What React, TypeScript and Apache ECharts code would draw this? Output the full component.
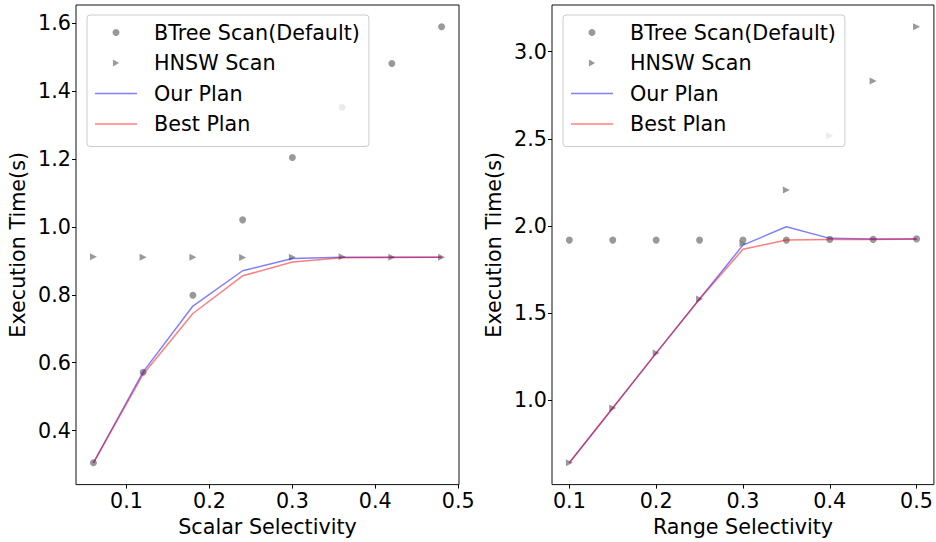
import React, { useEffect, useRef } from "react";
import * as echarts from "echarts";

// ---- data ----
const scalarSel = [0.06, 0.12, 0.18, 0.24, 0.3, 0.36, 0.42, 0.48];
const scalarBTree = [0.305, 0.572, 0.799, 1.021, 1.205, 1.353, 1.482, 1.59];
const scalarHNSW = [0.912, 0.911, 0.911, 0.91, 0.911, 0.912, 0.911, 0.911];
const scalarOur = [0.305, 0.573, 0.767, 0.871, 0.907, 0.911, 0.911, 0.911];
const scalarBest = [0.305, 0.566, 0.745, 0.856, 0.897, 0.909, 0.91, 0.911];

const rangeSel = [0.1, 0.15, 0.2, 0.25, 0.3, 0.35, 0.4, 0.45, 0.5];
const rangeBTree = [1.918, 1.918, 1.918, 1.918, 1.918, 1.918, 1.922, 1.922, 1.925];
const rangeHNSW = [0.639, 0.954, 1.269, 1.58, 1.898, 2.206, 2.517, 2.832, 3.143];
const rangeOur = [0.639, 0.954, 1.269, 1.58, 1.889, 1.995, 1.928, 1.925, 1.925];
const rangeBest = [0.639, 0.954, 1.269, 1.58, 1.865, 1.918, 1.922, 1.922, 1.925];

const leftXTicks = [0.1, 0.2, 0.3, 0.4, 0.5];
const leftYTicks = [0.4, 0.6, 0.8, 1.0, 1.2, 1.4, 1.6];
const rightXTicks = [0.1, 0.2, 0.3, 0.4, 0.5];
const rightYTicks = [1.0, 1.5, 2.0, 2.5, 3.0];

const names = ["BTree Scan(Default)", "HNSW Scan", "Our Plan", "Best Plan"];
const xNames = ["Scalar Selectivity", "Range Selectivity"];
const yName = "Execution Time(s)";

// ---- helpers ----
const FONT = "DejaVu Sans";
const FS = 20.7;
function padded(arrs: number[][]): [number, number] {
  const all = arrs.flat();
  const mn = Math.min(...all);
  const mx = Math.max(...all);
  const r = mx - mn;
  return [mn - 0.05 * r, mx + 0.05 * r];
}
const zip = (xs: number[], ys: number[]) => xs.map((x, i) => [x, ys[i]]);
const fmt = (v: number) => v.toFixed(1);

function makeX(idx: number, ext: [number, number], ticks: number[], name: string) {
  return {
    type: "value",
    gridIndex: idx,
    min: ext[0],
    max: ext[1],
    name,
    nameLocation: "middle",
    nameGap: 25,
    nameTextStyle: { fontSize: FS, fontFamily: FONT, color: "#000" },
    axisLine: { show: false },
    splitLine: { show: false },
    axisTick: { show: true, length: 4, customValues: ticks, lineStyle: { color: "#000", width: 1 } },
    axisLabel: {
      customValues: ticks,
      formatter: fmt,
      fontSize: FS,
      fontFamily: FONT,
      color: "#000",
      margin: 6,
      lineHeight: 20,
    },
  };
}
function makeY(idx: number, ext: [number, number], ticks: number[]) {
  return {
    type: "value",
    gridIndex: idx,
    min: ext[0],
    max: ext[1],
    name: yName,
    nameLocation: "middle",
    nameGap: 48,
    nameTextStyle: { fontSize: FS, fontFamily: FONT, color: "#000" },
    axisLine: { show: false },
    splitLine: { show: false },
    axisTick: { show: true, length: 4, customValues: ticks, lineStyle: { color: "#000", width: 1 } },
    axisLabel: {
      customValues: ticks,
      formatter: fmt,
      fontSize: FS,
      fontFamily: FONT,
      color: "#000",
      margin: 5,
    },
  };
}

const GRAY = "#808080";
const BLUE = "rgba(0,0,255,0.5)";
const RED = "rgba(255,0,0,0.5)";
const LINE_ICON = "path://M0,0 H42 V1.5 H0 Z";
const TRI_ICON = "path://M0,0 L6,3.4 L0,6.8 Z";

function seriesFor(idx: number, xs: number[], b: number[], h: number[], o: number[], be: number[]) {
  return [
    {
      name: names[0], type: "scatter", xAxisIndex: idx, yAxisIndex: idx,
      data: zip(xs, b), symbol: "circle", symbolSize: 7,
      itemStyle: { color: GRAY }, z: 2,
    },
    {
      name: names[1], type: "scatter", xAxisIndex: idx, yAxisIndex: idx,
      data: zip(xs, h), symbol: "triangle", symbolSize: 7, symbolRotate: -90,
      itemStyle: { color: GRAY }, z: 2,
    },
    {
      name: names[2], type: "line", xAxisIndex: idx, yAxisIndex: idx,
      data: zip(xs, o), symbol: "none", color: BLUE,
      lineStyle: { color: BLUE, width: 1.5 }, z: 3,
    },
    {
      name: names[3], type: "line", xAxisIndex: idx, yAxisIndex: idx,
      data: zip(xs, be), symbol: "none", color: RED,
      lineStyle: { color: RED, width: 1.5 }, z: 3,
    },
  ];
}

function makeLegend(left: number) {
  return {
    orient: "vertical",
    left,
    top: 15,
    itemWidth: 42,
    itemHeight: 7,
    itemGap: 9.5,
    symbolKeepAspect: true,
    symbolRotate: 0,
    padding: [7, 9, 12, 8],
    backgroundColor: "rgba(255,255,255,0.8)",
    borderColor: "#cccccc",
    borderWidth: 1,
    borderRadius: 3,
    textStyle: { fontSize: FS, fontFamily: FONT, color: "#000", lineHeight: 20, padding: [0, 0, 0, 12] },
    data: [
      { name: names[0], icon: "circle" },
      { name: names[1], icon: TRI_ICON },
      { name: names[2], icon: LINE_ICON },
      { name: names[3], icon: LINE_ICON },
    ],
  };
}

export default function App() {
  const ref = useRef<HTMLDivElement>(null);
  useEffect(() => {
    document.body.style.margin = "0";
    if (!ref.current) return;
    const chart = echarts.init(ref.current, undefined, { renderer: "svg" });
    const lx = padded([scalarSel]);
    const ly = padded([scalarBTree, scalarHNSW, scalarOur, scalarBest]);
    const rx = padded([rangeSel]);
    const ry = padded([rangeBTree, rangeHNSW, rangeOur, rangeBest]);
    chart.setOption({
      animation: false,
      backgroundColor: "#ffffff",
      textStyle: { fontFamily: FONT },
      grid: [
        { left: 76, right: 477, top: 5, bottom: 57, show: true, borderColor: "#111", borderWidth: 1, backgroundColor: "transparent" },
        { left: 552, right: 1, top: 5, bottom: 57, show: true, borderColor: "#111", borderWidth: 1, backgroundColor: "transparent" },
      ],
      xAxis: [makeX(0, lx, leftXTicks, xNames[0]), makeX(1, rx, rightXTicks, xNames[1])],
      yAxis: [makeY(0, ly, leftYTicks), makeY(1, ry, rightYTicks)],
      legend: [makeLegend(87), makeLegend(563)],
      series: [
        ...seriesFor(0, scalarSel, scalarBTree, scalarHNSW, scalarOur, scalarBest),
        ...seriesFor(1, rangeSel, rangeBTree, rangeHNSW, rangeOur, rangeBest),
      ],
    });
    return () => chart.dispose();
  }, []);
  return (
    <div
      ref={ref}
      style={{ position: "absolute", left: 0, top: 0, width: 936, height: 542 }}
    />
  );
}
